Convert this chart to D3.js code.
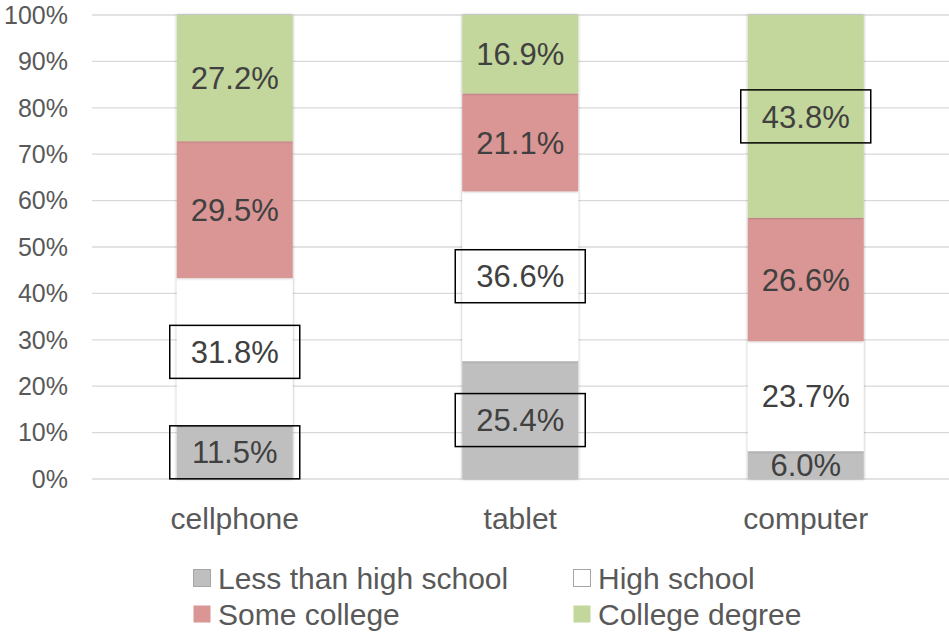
<!DOCTYPE html>
<html><head><meta charset="utf-8">
<script src="https://cdn.jsdelivr.net/npm/d3@7"></script>
<style>body{margin:0;background:#fff}svg{display:block}text{font-family:"Liberation Sans",Arial,sans-serif}</style>
</head><body>
<svg id="c" width="949" height="632"></svg>
<script>
const categories = ["cellphone","tablet","computer"];
const seriesNames = ["Less than high school","High school","Some college","College degree"];
const lessThanHS = [11.5, 25.4, 6.0];
const highSchool = [31.8, 36.6, 23.7];
const someCollege = [29.5, 21.1, 26.6];
const collegeDegree = [27.2, 16.9, 43.8];
const colors = ["#bfbfbf","#ffffff","#d99694","#c3d69b"];
const yTicks = [0,10,20,30,40,50,60,70,80,90,100];
// labels drawn with a black box: [category index, series index]
const boxed = [[0,0],[0,1],[1,0],[1,1],[2,3]];

const series = [lessThanHS, highSchool, someCollege, collegeDegree];
const svg = d3.select("#c");
const defs = svg.append("defs");
const f = defs.append("filter").attr("id","sh").attr("x","-20%").attr("y","-5%").attr("width","140%").attr("height","110%");
f.append("feDropShadow").attr("dx",0).attr("dy",0).attr("stdDeviation",1.8).attr("flood-color","#000").attr("flood-opacity",0.35);

const x = d3.scaleBand().domain(categories).range([92,948.5]).paddingInner(0.594).paddingOuter(0.297);
const y = d3.scaleLinear().domain([0,100]).range([479,15]);

// gridlines
svg.append("g").selectAll("line").data(yTicks).join("line")
  .attr("x1",92).attr("x2",949).attr("y1",d=>y(d)).attr("y2",d=>y(d))
  .attr("stroke","#d9d9d9").attr("stroke-width",1.3);
// y labels
svg.append("g").selectAll("text").data(yTicks).join("text")
  .attr("x",68).attr("y",d=>y(d)).attr("dy","0.35em").attr("text-anchor","end")
  .attr("font-size",25).attr("fill","#595959").text(d=>d+"%");

// stacked data
const rows = categories.map((c,i)=>{const o={cat:c}; seriesNames.forEach((s,j)=>o[s]=series[j][i]); return o;});
const stack = d3.stack().keys(seriesNames)(rows);

const bars = svg.append("g");
stack.forEach((layer,j)=>{
  bars.append("g").attr("filter","url(#sh)").selectAll("rect").data(layer).join("rect")
    .attr("x",d=>x(d.data.cat)).attr("width",x.bandwidth())
    .attr("y",d=>y(Math.min(d[1],100))).attr("height",d=>y(d[0])-y(Math.min(d[1],100)))
    .attr("fill",colors[j]);
});

// labels
const lab = svg.append("g");
stack.forEach((layer,j)=>{
  layer.forEach((d,i)=>{
    const cx = x(d.data.cat)+x.bandwidth()/2;
    const cy = (y(d[0])+y(Math.min(d[1],100)))/2;
    const isBoxed = boxed.some(b=>b[0]===i&&b[1]===j);
    if(isBoxed){
      lab.append("rect").attr("x",cx-65).attr("y",cy-26.5).attr("width",130).attr("height",53)
        .attr("fill","none").attr("stroke","#000").attr("stroke-width",1.5);
    }
    lab.append("text").attr("x",cx).attr("y",cy).attr("dy","0.36em").attr("text-anchor","middle")
      .attr("font-size",31).attr("fill","#404040").text(series[j][i].toFixed(1)+"%");
  });
});

// category labels
svg.append("g").selectAll("text").data(categories).join("text")
  .attr("x",d=>x(d)+x.bandwidth()/2).attr("y",518).attr("dy","0.35em").attr("text-anchor","middle")
  .attr("font-size",30).attr("fill","#595959").text(d=>d);

// legend
const legPos = [[193,578],[573,578],[193,614],[573,614]];
const leg = svg.append("g");
seriesNames.forEach((s,j)=>{
  const [lx,ly]=legPos[j];
  leg.append("rect").attr("x",lx+0.5).attr("y",ly-8.5).attr("width",17).attr("height",17)
    .attr("fill",colors[j]).attr("stroke",j<2?"#a6a6a6":"none").attr("stroke-width",1);
  leg.append("text").attr("x",lx+25).attr("y",ly).attr("dy","0.35em")
    .attr("font-size",30).attr("fill","#595959").text(s);
});
</script>
</body></html>
